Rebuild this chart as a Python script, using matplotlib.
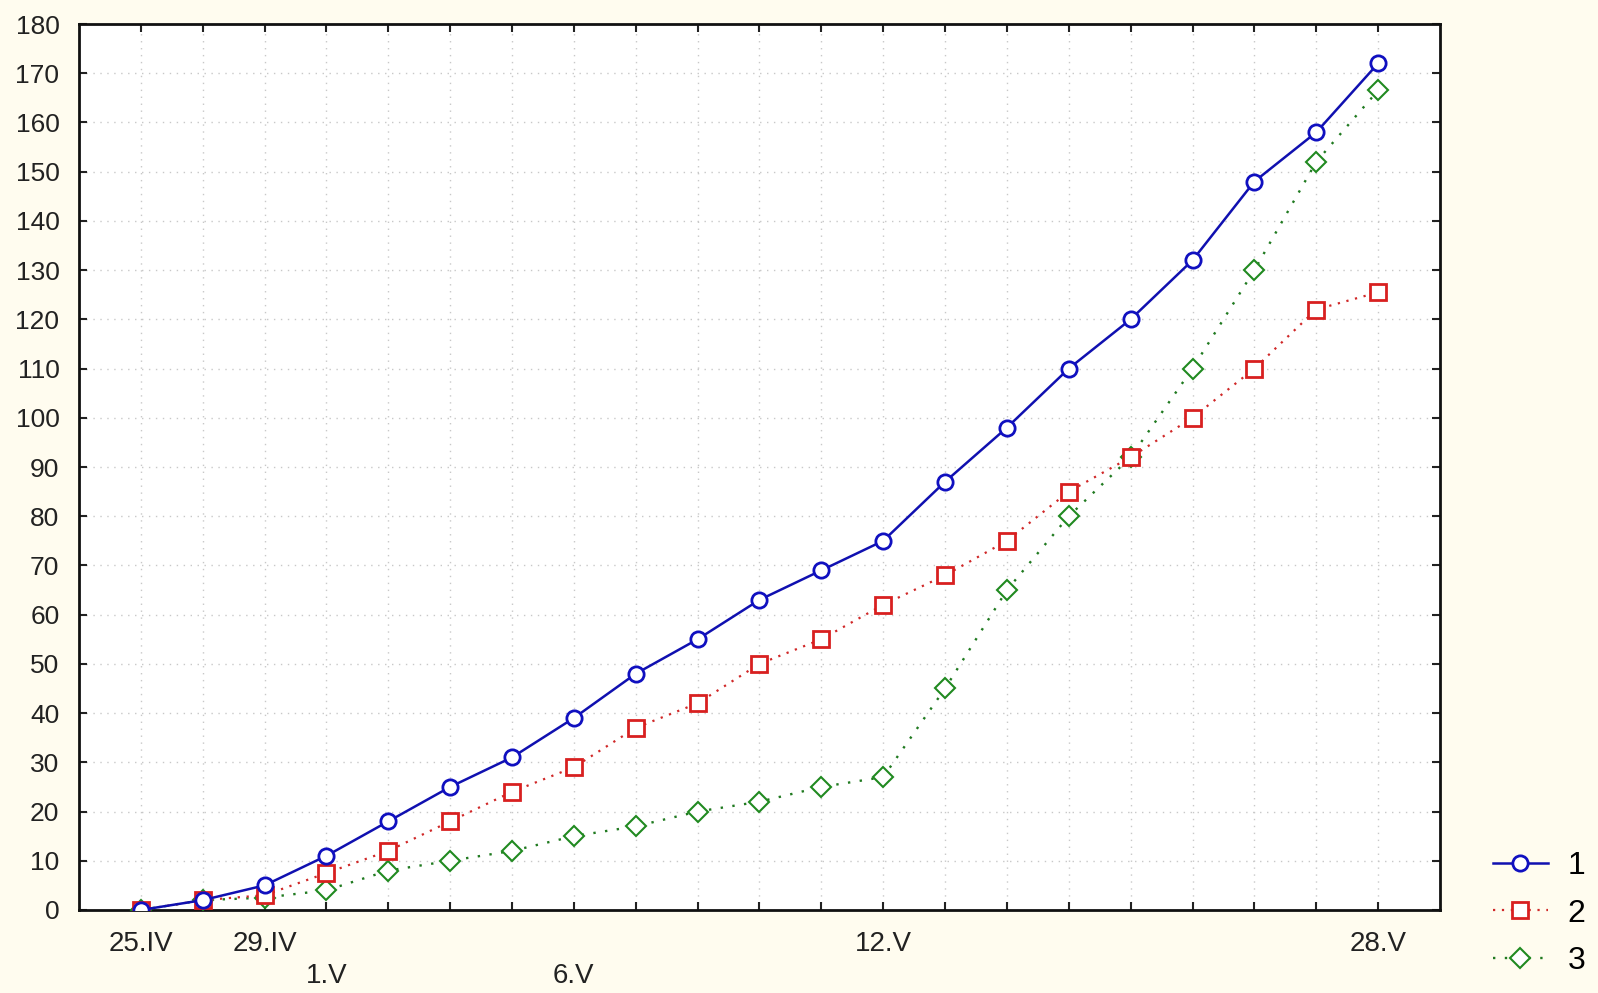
import numpy as np
import matplotlib
matplotlib.use("Agg")
import matplotlib.pyplot as plt

plt.rcParams['font.family'] = ['Liberation Sans', 'DejaVu Sans']

# данные
idx = np.arange(21)
s1 = [0, 2, 5, 11, 18, 25, 31, 39, 48, 55, 63, 69, 75, 87, 98, 110, 120, 132, 148, 158, 172]
s2 = [0, 2, 3, 7.5, 12, 18, 24, 29, 37, 42, 50, 55, 62, 68, 75, 85, 92, 100, 110, 122, 125.5]
s3 = [0, 2, 2.5, 4, 8, 10, 12, 15, 17, 20, 22, 25, 27, 45, 65, 80, 92, 110, 130, 152, 166.5]
series_names = ['1', '2', '3']

upper_labels = {0: '25.IV', 2: '29.IV', 12: '12.V', 20: '28.V'}
lower_labels = {3: '1.V', 7: '6.V'}

bg = '#fffcef'
fig = plt.figure(figsize=(15.98, 9.93), dpi=100, facecolor=bg)
ax = fig.add_axes([0.0494, 0.0836, 0.8517, 0.8922])
ax.set_facecolor('white')

ax.plot(idx, s1, color='#1010b0', lw=1.8, ls='-', marker='o', ms=11,
        mfc='white', mec='#1010c0', mew=2, label=series_names[0], zorder=5)
ax.plot(idx, s2, color='#d02828', lw=1.6, ls=(0, (1, 3)), marker='s', ms=12,
        mfc='white', mec='#d82020', mew=2, label=series_names[1], zorder=4)
ax.plot(idx, s3, color='#207a20', lw=1.7, ls=(0, (1, 4)), marker='D', ms=10,
        mfc='white', mec='#208a20', mew=1.5, label=series_names[2], zorder=3)

ax.set_xlim(-1, 21)
ax.set_ylim(0, 180)
ax.set_xticks(idx)
ax.set_xticklabels([upper_labels.get(i, '') for i in idx])
ax.set_yticks(np.arange(0, 181, 10))

# второй ряд подписей дат
for i, lab in lower_labels.items():
    ax.annotate(lab, xy=(i, 0), xycoords=ax.get_xaxis_transform(),
                xytext=(0, -47.5), textcoords='offset points',
                ha='center', va='center', fontsize=20, color='#222222')

ax.grid(True, color='#c8c8c8', ls=(0, (1, 4)), lw=1.0)
ax.set_axisbelow(True)

for sp in ax.spines.values():
    sp.set_linewidth(2)
    sp.set_color('#111111')

ax.tick_params(axis='both', direction='in', length=6, width=1.5,
               top=True, right=True, colors='#222222')
ax.tick_params(axis='x', pad=15, labelsize=20)
ax.tick_params(axis='y', pad=14, labelsize=19)

fig.legend(loc='lower left', bbox_to_anchor=(0.916, -0.012), frameon=False,
           fontsize=23, handlelength=1.75, labelspacing=0.55, handletextpad=0.6)

fig.savefig('out.png', dpi=100, facecolor=bg)
